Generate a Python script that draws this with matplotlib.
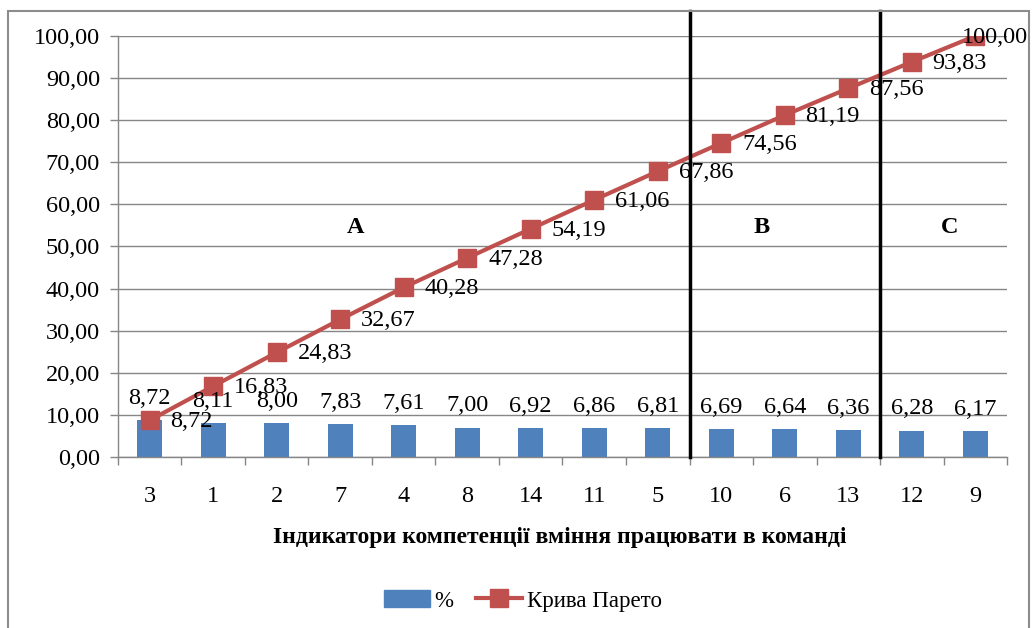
import numpy as np
import matplotlib
matplotlib.use("Agg")
from matplotlib import pyplot as plt
from matplotlib.patches import Rectangle
from matplotlib.lines import Line2D
from matplotlib.patches import Patch

# дані
indicators = ["3", "1", "2", "7", "4", "8", "14", "11", "5", "10", "6", "13", "12", "9"]
percent = [8.72, 8.11, 8.00, 7.83, 7.61, 7.00, 6.92, 6.86, 6.81, 6.69, 6.64, 6.36, 6.28, 6.17]
pareto = [8.72, 16.83, 24.83, 32.67, 40.28, 47.28, 54.19, 61.06, 67.86, 74.56, 81.19, 87.56, 93.83, 100.00]
zones = ["A", "B", "C"]
zone_x = [3.24, 9.63, 12.59]
zone_y = 54.4
borders = [8.5, 11.5]

plt.rcParams['font.family'] = ['Liberation Serif', 'DejaVu Serif']

bar_color = '#4F81BD'
line_color = '#C0504D'
grid_color = '#868686'
fs = 17.5

fig = plt.figure(figsize=(10.32, 6.28), dpi=100)
ax = fig.add_axes([0.1143, 0.2723, 0.9758 - 0.1143, 0.9427 - 0.2723])

# рамка діаграми
fig.patches.append(Rectangle((8 / 1032, -0.05), (1029 - 8) / 1032, (628 - 11) / 628 + 0.05,
                             transform=fig.transFigure, fill=False,
                             edgecolor='#8c8c8c', linewidth=1.5))

x = np.arange(len(indicators))

ax.bar(x, percent, width=0.4, color=bar_color, zorder=2)
ax.plot(x, pareto, color=line_color, linewidth=3, marker='s', markersize=13,
        markerfacecolor=line_color, markeredgecolor=line_color, zorder=3)

# підписи стовпчиків
for xi, v in zip(x, percent):
    ax.annotate(f"{v:.2f}".replace('.', ','), (xi, v), xytext=(0, 8),
                textcoords='offset points', ha='center', va='bottom', fontsize=fs)

# підписи кривої
for i, (xi, v) in enumerate(zip(x, pareto)):
    if i == len(pareto) - 1:
        off = (-10, -1)
    else:
        off = (15, -1)
    ax.annotate(f"{v:.2f}".replace('.', ','), (xi, v), xytext=off,
                textcoords='offset points', ha='left', va='center', fontsize=fs, zorder=4)

# межі зон
for b in borders:
    ax.axvline(b, ymin=0, ymax=(457 - 11) / 421, color='black', linewidth=2.5,
               clip_on=False, zorder=5)

for z, zx in zip(zones, zone_x):
    ax.text(zx, zone_y, z, ha='center', va='center', fontsize=fs, fontweight='bold')

ax.set_xlim(-0.5, len(indicators) - 0.5)
ax.set_ylim(0, 100)
ax.set_yticks(np.arange(0, 101, 10))
ax.set_yticklabels([f"{v:.2f}".replace('.', ',') for v in np.arange(0, 101, 10)], fontsize=fs)
ax.set_xticks(x)
ax.set_xticklabels(indicators, fontsize=fs)
ax.set_xticks(np.arange(-0.5, len(indicators)), minor=True)
ax.tick_params(axis='x', which='major', length=0, pad=21)
ax.tick_params(axis='x', which='minor', length=6, color=grid_color, width=1)
ax.tick_params(axis='y', length=6, color=grid_color, width=1, pad=7)

ax.yaxis.grid(True, color=grid_color, linewidth=1)
ax.set_axisbelow(True)
for s in ['top', 'right']:
    ax.spines[s].set_visible(False)
for s in ['left', 'bottom']:
    ax.spines[s].set_color(grid_color)
    ax.spines[s].set_linewidth(1)

fig.text(560 / 1032, 1 - 537 / 628, "Індикатори компетенції вміння працювати в команді",
         ha='center', va='center', fontsize=17, fontweight='bold')

handles = [Patch(facecolor=bar_color, edgecolor=bar_color),
           Line2D([], [], color=line_color, linewidth=3, marker='s', markersize=13)]
fig.legend(handles, ["%", "Крива Парето"], loc='center', bbox_to_anchor=(523 / 1032, 1 - 601 / 628),
           ncol=2, frameon=False, fontsize=16.5, handlelength=2.0, columnspacing=1.0,
           handletextpad=0.2)

fig.savefig("out.png", dpi=100)
